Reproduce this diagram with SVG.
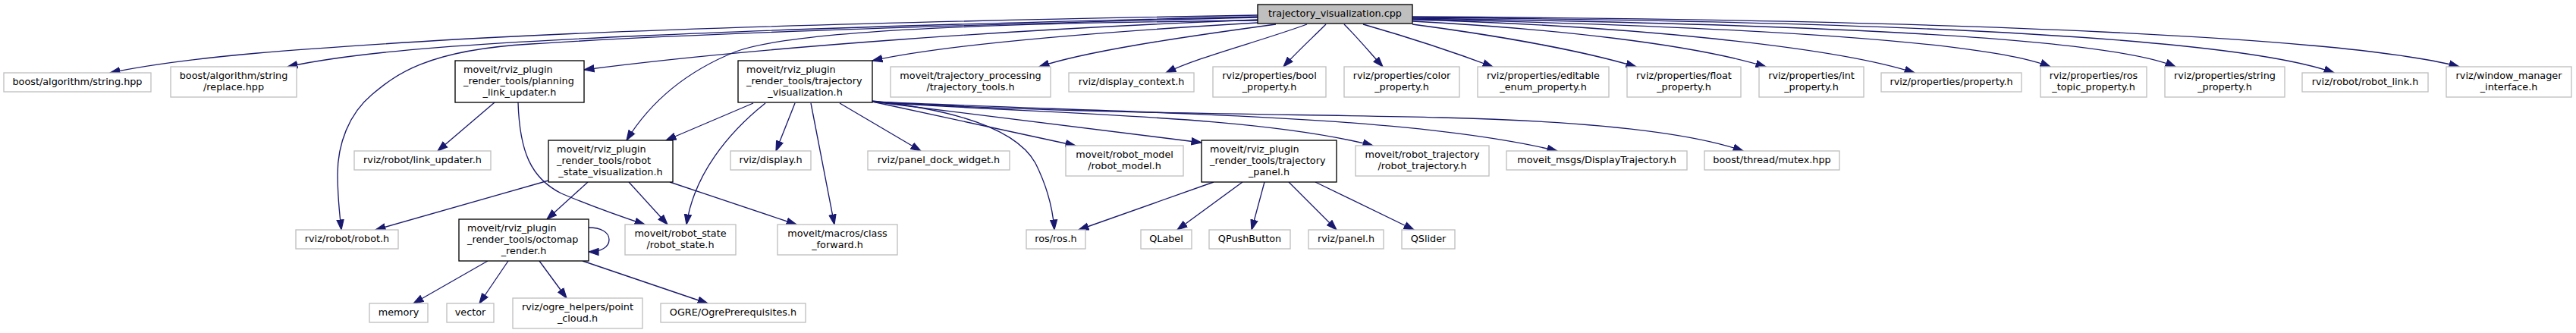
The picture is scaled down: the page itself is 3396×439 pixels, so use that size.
<svg xmlns="http://www.w3.org/2000/svg" width="3396" height="439" viewBox="0 0 3396 439">
<defs>
<style>
.n rect{fill:#fff;stroke:#bfbfbf;stroke-width:1.33}
.n.b rect{stroke:#000}
.n.c rect{fill:#bfbfbf;stroke:#000}
text{font-family:"DejaVu Sans","Liberation Sans",sans-serif;font-size:12.8px;fill:#000}
.m{text-anchor:middle}
.e path{fill:none;stroke:#191970;stroke-width:1.33;marker-end:url(#ah)}
</style>
<marker id="ah" markerUnits="userSpaceOnUse" markerWidth="15" markerHeight="11" viewBox="0 0 15 11" refX="13.5" refY="5.5" orient="auto"><path d="M0.5,1 L13.5,5.5 L0.5,10 Z" fill="#191970" stroke="#191970" stroke-width="1.2"/></marker>
</defs>
<rect width="3396" height="439" fill="#fff"/>
<g id="edges" class="e">
<path d="M1658,20 C1200,28 850,38 600,52 C400,64 250,74 145,96"/>
<path d="M1658,22 C1300,30 1000,40 850,47 C650,56 480,66 379,88"/>
<path d="M1658,23 C1250,33 900,45 700,58 C560,66 520,100 490,125 C460,150 445,190 445,230 C445,260 448,285 450,303"/>
<path d="M1658,26 C1350,38 1000,62 770,92"/>
<path d="M1658,30 C1450,42 1250,58 1150,80"/>
<path d="M1658,27 C1350,30 1050,38 970,68 C910,92 860,130 826,185"/>
<path d="M1682,32 C1550,50 1430,68 1370,88"/>
<path d="M1723,32 C1660,55 1580,75 1537,96"/>
<path d="M1748,32 C1730,50 1710,68 1692,88"/>
<path d="M1772,32 C1790,50 1805,68 1823,88"/>
<path d="M1797,32 C1860,50 1920,70 1968,88"/>
<path d="M1862,32 C1960,45 2080,65 2157,88"/>
<path d="M1862,28 C2050,38 2230,58 2328,88"/>
<path d="M1862,26 C2150,34 2420,62 2524,96"/>
<path d="M1862,25 C2300,35 2620,55 2703,88"/>
<path d="M1862,24 C2400,32 2780,50 2868,88"/>
<path d="M1862,23 C2500,28 2950,50 3077,96"/>
<path d="M1862,22 C2600,26 3100,50 3242,88"/>
<path d="M652,135 L577,199"/>
<path d="M683,135 C685,200 700,235 740,255 C780,272 820,286 850,296"/>
<path d="M993,136 L878,185"/>
<path d="M1009,136 C960,175 915,230 905,296"/>
<path d="M1048,136 L1023,199"/>
<path d="M1069,136 L1100,296"/>
<path d="M1107,136 L1214,199"/>
<path d="M1150,133 C1260,145 1340,170 1365,215 C1380,245 1388,275 1390,303"/>
<path d="M1150,134 L1418,192"/>
<path d="M1150,134 C1300,152 1450,170 1584,188"/>
<path d="M1150,134 C1350,150 1650,150 1810,192"/>
<path d="M1150,134 C1500,150 1850,150 2053,199"/>
<path d="M1150,134 C1400,150 1700,150 1900,155 C2100,160 2230,175 2298,199"/>
<path d="M775,240 L721,289"/>
<path d="M829,240 L880,296"/>
<path d="M723,238 L495,303"/>
<path d="M883,240 L1050,296"/>
<path d="M1600,240 L1422,303"/>
<path d="M1638,240 L1552,303"/>
<path d="M1667,240 L1650,303"/>
<path d="M1699,240 L1762,303"/>
<path d="M1734,240 L1864,303"/>
<path d="M776,300 C792,300 803,306 803,316 C803,326 792,332 776,332"/>
<path d="M643,344 L545,400"/>
<path d="M670,344 L632,400"/>
<path d="M711,344 L747,393"/>
<path d="M768,344 L933,400"/>
</g>
<g id="cpp" class="n c"><rect x="1658" y="6" width="204" height="25"/><text class="m" x="1760" y="22">trajectory_visualization.cpp</text></g>
<g id="n_string" class="n"><rect x="5" y="96" width="194" height="25"/><text class="m" x="102" y="112">boost/algorithm/string.hpp</text></g>
<g id="n_replace" class="n"><rect x="225" y="88" width="166" height="40"/><text class="m" x="308" y="104">boost/algorithm/string</text><text class="m" x="308" y="119">/replace.hpp</text></g>
<g id="n_planning" class="n b"><rect x="600" y="80" width="170" height="55"/><text x="611" y="96">moveit/rviz_plugin</text><text x="611" y="111">_render_tools/planning</text><text class="m" x="685" y="126">_link_updater.h</text></g>
<g id="n_trajvis" class="n b"><rect x="973" y="80" width="177" height="55"/><text x="984" y="96">moveit/rviz_plugin</text><text x="984" y="111">_render_tools/trajectory</text><text class="m" x="1061.5" y="126">_visualization.h</text></g>
<g id="n_trajtools" class="n"><rect x="1174" y="88" width="211" height="40"/><text class="m" x="1279.5" y="104">moveit/trajectory_processing</text><text class="m" x="1279.5" y="119">/trajectory_tools.h</text></g>
<g id="n_dispctx" class="n"><rect x="1409" y="96" width="165" height="25"/><text class="m" x="1491.5" y="112">rviz/display_context.h</text></g>
<g id="n_bool" class="n"><rect x="1599" y="88" width="149" height="40"/><text class="m" x="1673.5" y="104">rviz/properties/bool</text><text class="m" x="1673.5" y="119">_property.h</text></g>
<g id="n_color" class="n"><rect x="1772" y="88" width="152" height="40"/><text class="m" x="1848" y="104">rviz/properties/color</text><text class="m" x="1848" y="119">_property.h</text></g>
<g id="n_editable" class="n"><rect x="1948" y="88" width="173" height="40"/><text class="m" x="2034.5" y="104">rviz/properties/editable</text><text class="m" x="2034.5" y="119">_enum_property.h</text></g>
<g id="n_float" class="n"><rect x="2145" y="88" width="150" height="40"/><text class="m" x="2220" y="104">rviz/properties/float</text><text class="m" x="2220" y="119">_property.h</text></g>
<g id="n_int" class="n"><rect x="2319" y="88" width="138" height="40"/><text class="m" x="2388" y="104">rviz/properties/int</text><text class="m" x="2388" y="119">_property.h</text></g>
<g id="n_property" class="n"><rect x="2480" y="96" width="185" height="25"/><text class="m" x="2572.5" y="112">rviz/properties/property.h</text></g>
<g id="n_rostopic" class="n"><rect x="2690" y="88" width="140" height="40"/><text class="m" x="2760" y="104">rviz/properties/ros</text><text class="m" x="2760" y="119">_topic_property.h</text></g>
<g id="n_stringprop" class="n"><rect x="2854" y="88" width="158" height="40"/><text class="m" x="2933" y="104">rviz/properties/string</text><text class="m" x="2933" y="119">_property.h</text></g>
<g id="n_robotlink" class="n"><rect x="3035" y="96" width="166" height="25"/><text class="m" x="3118" y="112">rviz/robot/robot_link.h</text></g>
<g id="n_wm" class="n"><rect x="3225" y="88" width="165" height="40"/><text class="m" x="3307.5" y="104">rviz/window_manager</text><text class="m" x="3307.5" y="119">_interface.h</text></g>
<g id="n_linkupd" class="n"><rect x="467" y="199" width="180" height="25"/><text class="m" x="557" y="215">rviz/robot/link_updater.h</text></g>
<g id="n_rsv" class="n b"><rect x="723" y="185" width="164" height="55"/><text x="734" y="201">moveit/rviz_plugin</text><text x="734" y="216">_render_tools/robot</text><text class="m" x="805" y="231">_state_visualization.h</text></g>
<g id="n_display" class="n"><rect x="963" y="199" width="106" height="25"/><text class="m" x="1016" y="215">rviz/display.h</text></g>
<g id="n_pdw" class="n"><rect x="1144" y="199" width="187" height="25"/><text class="m" x="1237.5" y="215">rviz/panel_dock_widget.h</text></g>
<g id="n_robotmodel" class="n"><rect x="1405" y="192" width="155" height="40"/><text class="m" x="1482.5" y="208">moveit/robot_model</text><text class="m" x="1482.5" y="223">/robot_model.h</text></g>
<g id="n_trajpanel" class="n b"><rect x="1584" y="185" width="178" height="55"/><text x="1595" y="201">moveit/rviz_plugin</text><text x="1595" y="216">_render_tools/trajectory</text><text class="m" x="1673" y="231">_panel.h</text></g>
<g id="n_robottraj" class="n"><rect x="1787" y="192" width="176" height="40"/><text class="m" x="1875" y="208">moveit/robot_trajectory</text><text class="m" x="1875" y="223">/robot_trajectory.h</text></g>
<g id="n_disptraj" class="n"><rect x="1986" y="199" width="238" height="25"/><text class="m" x="2105" y="215">moveit_msgs/DisplayTrajectory.h</text></g>
<g id="n_mutex" class="n"><rect x="2247" y="199" width="178" height="25"/><text class="m" x="2336" y="215">boost/thread/mutex.hpp</text></g>
<g id="n_robot" class="n"><rect x="390" y="303" width="135" height="25"/><text class="m" x="457.5" y="319">rviz/robot/robot.h</text></g>
<g id="n_octomap" class="n b"><rect x="605" y="289" width="171" height="55"/><text x="616" y="305">moveit/rviz_plugin</text><text x="616" y="320">_render_tools/octomap</text><text class="m" x="690.5" y="335">_render.h</text></g>
<g id="n_robotstate" class="n"><rect x="824" y="296" width="146" height="40"/><text class="m" x="897" y="312">moveit/robot_state</text><text class="m" x="897" y="327">/robot_state.h</text></g>
<g id="n_classfwd" class="n"><rect x="1025" y="296" width="158" height="40"/><text class="m" x="1104" y="312">moveit/macros/class</text><text class="m" x="1104" y="327">_forward.h</text></g>
<g id="n_ros" class="n"><rect x="1353" y="303" width="78" height="25"/><text class="m" x="1392" y="319">ros/ros.h</text></g>
<g id="n_qlabel" class="n"><rect x="1504" y="303" width="67" height="25"/><text class="m" x="1537.5" y="319">QLabel</text></g>
<g id="n_qpush" class="n"><rect x="1594" y="303" width="107" height="25"/><text class="m" x="1647.5" y="319">QPushButton</text></g>
<g id="n_panel" class="n"><rect x="1725" y="303" width="99" height="25"/><text class="m" x="1774.5" y="319">rviz/panel.h</text></g>
<g id="n_qslider" class="n"><rect x="1848" y="303" width="70" height="25"/><text class="m" x="1883" y="319">QSlider</text></g>
<g id="n_memory" class="n"><rect x="487" y="400" width="77" height="25"/><text class="m" x="525.5" y="416">memory</text></g>
<g id="n_vector" class="n"><rect x="589" y="400" width="62" height="25"/><text class="m" x="620" y="416">vector</text></g>
<g id="n_pointcloud" class="n"><rect x="676" y="393" width="171" height="40"/><text class="m" x="761.5" y="409">rviz/ogre_helpers/point</text><text class="m" x="761.5" y="424">_cloud.h</text></g>
<g id="n_ogre" class="n"><rect x="871" y="400" width="191" height="25"/><text class="m" x="966.5" y="416">OGRE/OgrePrerequisites.h</text></g>
</svg>
